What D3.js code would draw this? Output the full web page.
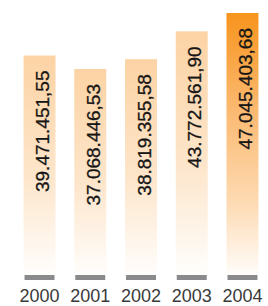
<!DOCTYPE html>
<html>
<head>
<meta charset="utf-8">
<script src="https://cdn.jsdelivr.net/npm/d3@7"></script>
<style>
  body { margin: 0; background: #fff; }
  svg { display: block; font-family: "Liberation Sans", Arial, sans-serif; }
</style>
</head>
<body>
<svg id="chart"></svg>
<script>
const years = ["2000", "2001", "2002", "2003", "2004"];
const values = [39471451.55, 37068446.53, 38819355.58, 43772561.90, 47045403.68];
const valueLabels = ["39.471.451,55", "37.068.446,53", "38.819.355,58", "43.772.561,90", "47.045.403,68"];

let width = 268, height = 306;
let baseY = 277;

let svg = d3.select("#chart").attr("width", width).attr("height", height);

let x = d3.scaleBand().domain(years).range([20, 262]).paddingInner(0.37).paddingOuter(0.07);
let y = d3.scaleLinear().domain([0, d3.max(values)]).range([baseY, 13]);

let defs = svg.append("defs");
function grad(id, stops) {
    let g = defs.append("linearGradient").attr("id", id)
        .attr("x1", 0).attr("y1", 0).attr("x2", 0).attr("y2", 1);
    stops.forEach(s => g.append("stop").attr("offset", s[0]).attr("stop-color", s[1]));
}
grad("gLight", [[0, "#fcd3a4"], [0.55, "#fde6cc"], [1, "#ffffff"]]);
grad("gOrange", [[0, "#f7941d"], [0.35, "#fbb86e"], [0.7, "#fdd9b0"], [1, "#ffffff"]]);

let bars = svg.selectAll("g.bar").data(years).enter().append("g").attr("class", "bar");

bars.append("rect")
    .attr("x", d => x(d))
    .attr("y", (d, i) => y(values[i]))
    .attr("width", x.bandwidth())
    .attr("height", (d, i) => baseY + 3 - y(values[i]))
    .attr("fill", (d, i) => i === years.length - 1 ? "url(#gOrange)" : "url(#gLight)");

// grey foot under each bar
bars.append("rect")
    .attr("x", d => x(d) + 1)
    .attr("y", 275)
    .attr("width", x.bandwidth() - 2)
    .attr("height", 5)
    .attr("fill", "#8a8a8c");

// rotated value labels
bars.append("text")
    .attr("transform", (d, i) => `translate(${x(d) + x.bandwidth() / 2 + 9.5},${y(values[i]) + 15}) rotate(-90)`)
    .attr("text-anchor", "end")
    .attr("font-size", 19)
    .attr("fill", "#151515")
    .attr("stroke", "#151515")
    .attr("stroke-width", 0.3)
    .text((d, i) => valueLabels[i]);

// year labels
svg.selectAll("text.year").data(years).enter().append("text")
    .attr("class", "year")
    .attr("x", d => x(d) + x.bandwidth() / 2)
    .attr("y", 302)
    .attr("text-anchor", "middle")
    .attr("font-size", 18)
    .attr("fill", "#3a3a3a")
    .text(d => d);
</script>
</body>
</html>
